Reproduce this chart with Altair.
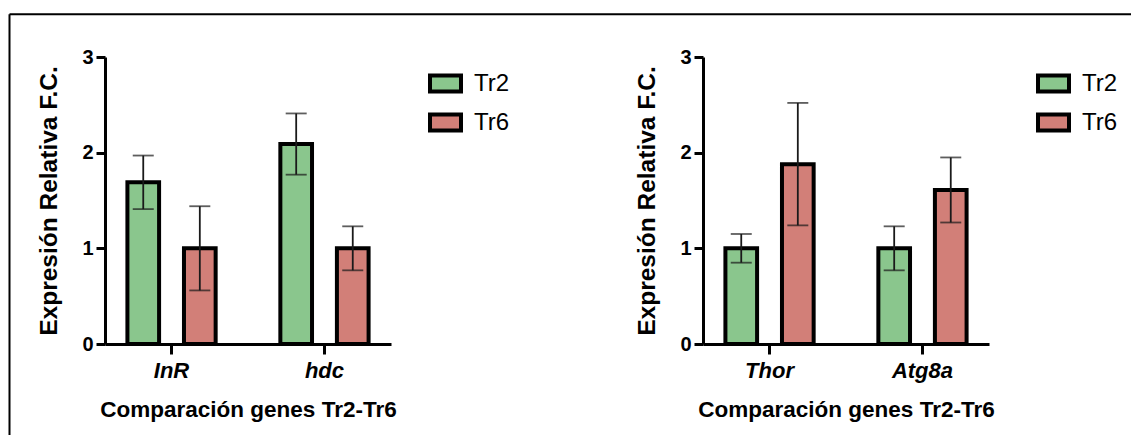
import altair as alt
import pandas as pd

# ---- data ----
groups = ["Tr2", "Tr6"]
genes_left = ["InR", "hdc"]
means_left = [1.69, 1.00, 2.09, 1.00]     # InR Tr2, InR Tr6, hdc Tr2, hdc Tr6
errs_left = [0.28, 0.44, 0.32, 0.23]
genes_right = ["Thor", "Atg8a"]
means_right = [1.00, 1.88, 1.00, 1.61]    # Thor Tr2, Thor Tr6, Atg8a Tr2, Atg8a Tr6
errs_right = [0.15, 0.64, 0.23, 0.34]
y_ticks = [0, 1, 2, 3]
colors = ["#8AC68D", "#D27F78"]

FONT = "Liberation Sans"
Y_TITLE = "Expresión Relativa F.C."
X_TITLE = "Comparación genes Tr2-Tr6"
W, H = 286, 287


def make_panel(genes, means, errs, legend_x, frame=False):
    df = pd.DataFrame({
        "gene": [g for g in genes for _ in groups],
        "group": groups * len(genes),
        "mean": means,
        "err": errs,
    })
    base = alt.Chart(df).transform_calculate(
        lo="datum.mean - datum.err", hi="datum.mean + datum.err"
    )
    x = alt.X(
        "gene:N", sort=genes,
        scale=alt.Scale(paddingInner=0.25, paddingOuter=0.06),
        axis=alt.Axis(
            title=X_TITLE, labelAngle=0, labelFont=FONT, labelFontSize=22,
            labelFontStyle="italic", labelFontWeight="bold", labelColor="black",
            labelPadding=6, tickSize=10, tickWidth=3, tickColor="black",
            domainWidth=3, domainColor="black", titleFont=FONT, titleFontSize=22.5,
            titleFontWeight="bold", titleColor="black", titlePadding=17,
        ),
    )
    xo = alt.XOffset(
        "group:N", sort=groups,
        scale=alt.Scale(paddingInner=0.44, paddingOuter=0.234),
    )

    def y(field):
        return alt.Y(
            field, scale=alt.Scale(domain=[0, 3], nice=False),
            axis=alt.Axis(
                title=Y_TITLE, values=y_ticks, format="d", grid=False,
                labelFont=FONT, labelFontSize=20, labelFontWeight="bold",
                labelColor="black", labelPadding=3, tickSize=9, tickWidth=3,
                tickColor="black", domainWidth=3, domainColor="black",
                titleFont=FONT, titleFontSize=24.5, titleFontWeight="bold",
                titleColor="black", titlePadding=20,
            ),
        )

    bars = base.mark_bar(stroke="black", strokeWidth=4).encode(
        x=x, xOffset=xo, y=y("mean:Q"),
        color=alt.Color(
            "group:N", sort=groups,
            scale=alt.Scale(domain=groups, range=colors),
            legend=alt.Legend(
                title=None, orient="none", legendX=legend_x, legendY=9,
                symbolType="M-1,-0.516H1V0.516H-1Z", symbolSize=961,
                symbolStrokeColor="black", symbolStrokeWidth=4,
                symbolOpacity=1, labelFont=FONT, labelFontSize=24,
                labelColor="black", labelOffset=11, rowPadding=5, padding=0,
            ),
        ),
    )
    rules = base.mark_rule(color="#1a1a1a", strokeWidth=1.8).encode(
        x=x, xOffset=xo, y=y("lo:Q"), y2="hi:Q"
    )
    cap_hi = base.mark_tick(color="#1a1a1a", size=21, thickness=1.8).encode(
        x=x, xOffset=xo, y=y("hi:Q")
    )
    cap_lo = base.mark_tick(color="#1a1a1a", size=21, thickness=1.8).encode(
        x=x, xOffset=xo, y=y("lo:Q")
    )
    layers = [bars, rules, cap_hi, cap_lo]
    if frame:
        one = alt.Data(values=[{}])
        top = alt.Chart(one).mark_rule(color="black", strokeWidth=2).encode(
            x=alt.value(-95.5), x2=alt.value(1026), y=alt.value(-42.7)
        )
        left = alt.Chart(one).mark_rule(color="black", strokeWidth=2).encode(
            x=alt.value(-95.5), y=alt.value(-42.7), y2=alt.value(378)
        )
        layers += [top, left]
    return alt.layer(*layers).properties(width=W, height=H)


left_panel = make_panel(genes_left, means_left, errs_left, 323, frame=True)
right_panel = make_panel(genes_right, means_right, errs_right, 333)

chart = (
    alt.hconcat(left_panel, right_panel, spacing=312, bounds="flush")
    .resolve_scale(color="independent")
    .resolve_legend(color="independent")
    .properties(
        padding={"left": 8, "top": 13, "right": 0, "bottom": 0},
        background="white",
    )
    .configure_view(strokeWidth=0)
)

chart.save("out.html", embed_options={"renderer": "svg", "actions": False})
